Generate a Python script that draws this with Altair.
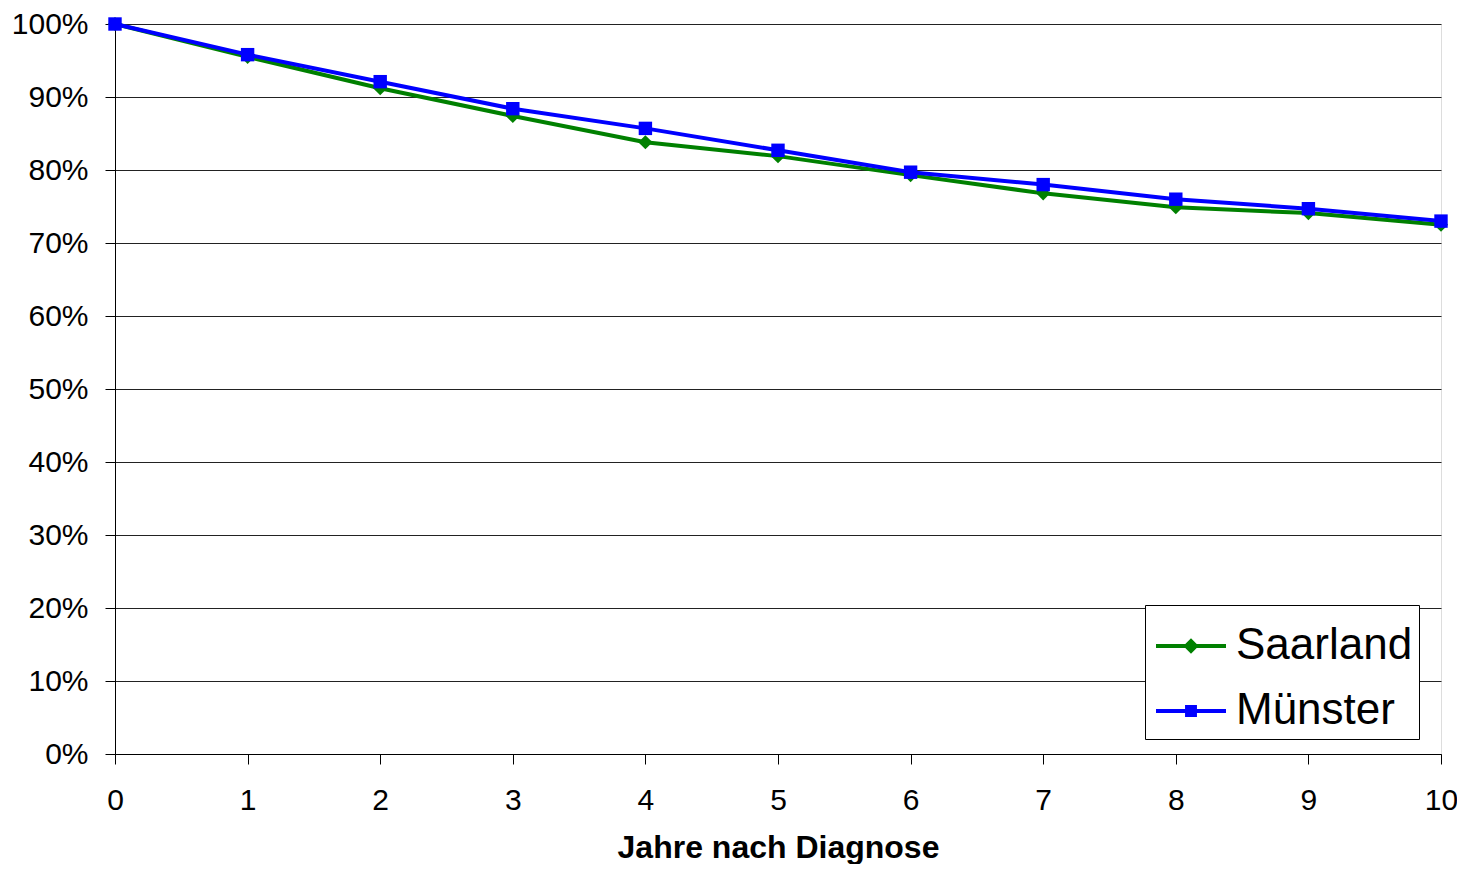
import altair as alt
import pandas as pd

years = list(range(11))
saarland = [100, 95.5, 91.2, 87.4, 83.8, 81.9, 79.3, 76.8, 74.9, 74.1, 72.5]
muenster = [100, 95.8, 92.1, 88.4, 85.7, 82.7, 79.7, 78.0, 76.0, 74.7, 73.0]
series_names = ["Saarland", "Münster"]
series_colors = ["#008000", "#0000ff"]
y_ticks = [i / 10 for i in range(11)]

rows = []
for name, vals in zip(series_names, [saarland, muenster]):
    for yr, v in zip(years, vals):
        rows.append({"Jahr": yr, "Wert": v / 100, "Serie": name})
df = pd.DataFrame(rows)

FONT = "Liberation Sans"

x_enc = alt.X("Jahr:Q",
              scale=alt.Scale(domain=[0, 10], nice=False, zero=False),
              axis=alt.Axis(values=years, labelAngle=0, format="d", grid=False,
                            tickSize=10, tickColor="#000", domainColor="#000",
                            labelFontSize=30, labelColor="#000", labelFont=FONT,
                            labelPadding=21, labelFlush=False, title="Jahre nach Diagnose",
                            titleFont=FONT, titleFontSize=32, titleFontWeight="bold",
                            titleColor="#000", titlePadding=17))
y_enc = alt.Y("Wert:Q",
              scale=alt.Scale(domain=[0, 1], nice=False),
              axis=alt.Axis(values=y_ticks, format=".0%", grid=True, gridColor="#222",
                            gridWidth=1, tickSize=10, tickColor="#000", domainColor="#000",
                            labelFontSize=30, labelColor="#000", labelFont=FONT,
                            labelPadding=17, labelFlush=False, title=None))

base = alt.Chart(df)

layers = []
shapes = ["diamond", "square"]
sizes = [200, 180]
for name, col, shp, sz in zip(series_names, series_colors, shapes, sizes):
    sub = base.transform_filter(alt.datum.Serie == name)
    layers.append(sub.mark_line(color=col, strokeWidth=4).encode(x=x_enc, y=y_enc))
    layers.append(sub.mark_point(filled=True, shape=shp, size=sz, color=col, opacity=1)
                  .encode(x=x_enc, y=y_enc))

legend_paths = [
    "M-1,-0.06H1V0.06H-1Z M0,-0.22L0.22,0L0,0.22L-0.22,0Z",
    "M-1,-0.06H1V0.06H-1Z M-0.17,-0.17H0.17V0.17H-0.17Z",
]


def make_legend():
    return alt.Legend(title=None, orient="none", legendX=1030, legendY=581,
                      labelFontSize=44, labelFont=FONT, labelColor="#000", labelLimit=0,
                      symbolSize=4900, symbolStrokeWidth=0, symbolOpacity=1,
                      symbolOffset=5, labelOffset=10, padding=6, rowPadding=8,
                      strokeColor="#000", fillColor="#fff", cornerRadius=0)


legend_layer = base.transform_filter("false").mark_point(filled=True, opacity=1).encode(
    x=x_enc, y=y_enc,
    fill=alt.Fill("Serie:N",
                  scale=alt.Scale(domain=series_names, range=series_colors),
                  legend=make_legend()),
    shape=alt.Shape("Serie:N",
                    scale=alt.Scale(domain=series_names, range=legend_paths),
                    legend=make_legend()),
)
layers.append(legend_layer)

chart = alt.layer(*layers).properties(
    width=1326, height=730,
    padding={"left": 107, "top": 16, "right": 16, "bottom": 110},
    autosize=alt.AutoSizeParams(type="none"),
).configure_view(stroke="#999", strokeWidth=2.5).configure(background="#fff")

chart.save("out.html", embed_options={"renderer": "svg", "actions": False})
